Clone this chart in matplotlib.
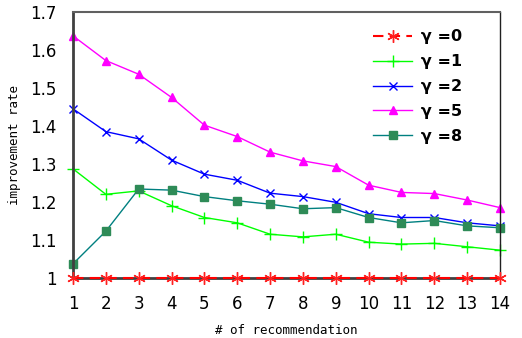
import matplotlib
matplotlib.use("Agg")
import matplotlib.pyplot as plt

x = list(range(1, 15))
g0 = [1.0] * 14
g1 = [1.288, 1.221, 1.230, 1.191, 1.160, 1.146, 1.116, 1.109, 1.116, 1.095, 1.090, 1.092, 1.083, 1.074]
g2 = [1.446, 1.386, 1.367, 1.311, 1.274, 1.258, 1.224, 1.215, 1.200, 1.170, 1.160, 1.160, 1.146, 1.138]
g5 = [1.638, 1.573, 1.537, 1.476, 1.403, 1.373, 1.332, 1.309, 1.294, 1.245, 1.226, 1.223, 1.206, 1.186]
g8 = [1.038, 1.124, 1.235, 1.232, 1.215, 1.204, 1.195, 1.183, 1.186, 1.160, 1.146, 1.152, 1.138, 1.133]
labels = ["\u03b3 =0", "\u03b3 =1", "\u03b3 =2", "\u03b3 =5", "\u03b3 =8"]
yticks = [1, 1.1, 1.2, 1.3, 1.4, 1.5, 1.6, 1.7]
ytick_labels = ["1", "1.1", "1.2", "1.3", "1.4", "1.5", "1.6", "1.7"]

fig = plt.figure(figsize=(5.22, 3.38), dpi=100)
ax = fig.add_axes([73/522, 1-278.3/338, 427/522, 266/338])

ax.plot(x, g0, color="#FF0000", ls=(0, (5, 3)), lw=1.5, marker=(6, 2, 0), ms=9, mew=1,
        mec="#FF2020", label=labels[0], clip_on=False, zorder=5)
ax.plot(x, g1, color="#00FF00", lw=1, marker="+", ms=8, mew=1, label=labels[1], clip_on=False)
ax.plot(x, g2, color="#0000FF", lw=1, marker="x", ms=6, mew=1, label=labels[2], clip_on=False)
ax.plot(x, g5, color="#FF00FF", lw=1, marker="^", ms=6, label=labels[3], clip_on=False)
ax.plot(x, g8, color="#008080", lw=1, marker="s", ms=6, mfc="#2E8B57", mec="#2E8B57",
        label=labels[4], clip_on=False)

ax.set_xlim(1, 14)
ax.set_ylim(1, 1.7)
ax.set_xticks(x)
ax.set_yticks(yticks)
ax.set_yticklabels(ytick_labels)
ax.tick_params(length=0, labelsize=12, pad=12)
for lab in ax.get_xticklabels() + ax.get_yticklabels():
    lab.set_family(["Liberation Sans Narrow", "DejaVu Sans"])

ax.spines["left"].set_color("#404040")
ax.spines["left"].set_linewidth(2)
ax.spines["bottom"].set_color("#404040")
ax.spines["bottom"].set_linewidth(2)
ax.spines["top"].set_color("#606060")
ax.spines["top"].set_linewidth(1.5)
ax.spines["right"].set_color("#202020")
ax.spines["right"].set_linewidth(1)

ax.set_xlabel("# of recommendation", fontsize=9, family=["DejaVu Sans Mono"], labelpad=8)
ax.set_ylabel("improvement rate", fontsize=9, family=["DejaVu Sans Mono"], labelpad=6)

leg = ax.legend(loc="upper left", bbox_to_anchor=(0.67, 0.99), frameon=False,
                prop={"weight": "bold", "size": 11.5, "family": ["Liberation Sans Narrow", "DejaVu Sans"]},
                handlelength=2.4, labelspacing=0.62, handletextpad=0.6)

fig.savefig("out.png", dpi=100)
